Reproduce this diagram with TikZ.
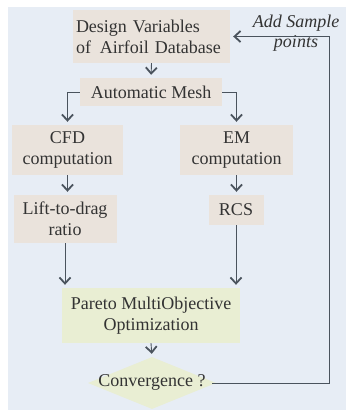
\documentclass[tikz,border=0pt]{standalone}
\usepackage{fontspec}
\setmainfont{Liberation Serif}
\usetikzlibrary{arrows.meta,shapes.geometric}
\definecolor{bgc}{HTML}{E7EDF5}
\definecolor{boxc}{HTML}{EAE3DC}
\definecolor{optc}{HTML}{E9EED3}
\definecolor{linec}{HTML}{4A535D}
\definecolor{txtc}{HTML}{333333}
\begin{document}
\begin{tikzpicture}[x=1pt,y=-1pt,
  font=\fontsize{18}{21}\selectfont,
  every node/.style={text=txtc},
  bx/.style={fill=boxc, draw=none, inner sep=2pt, align=center},
  opt/.style={fill=optc, draw=none, inner sep=2pt, align=center},
  arr/.style={draw=linec, line width=0.9pt, -{Straight Barb[length=6pt,width=11pt,line width=1.8pt]}, shorten >=3pt},
  ln/.style={draw=linec, line width=0.9pt}]
\useasboundingbox (0,0) rectangle (346,410);
\fill[bgc] (8,7) rectangle (346,410);

\node[bx, minimum width=157pt, minimum height=53pt, text width=151pt, align=left] (dv) at (151.5,36.5)
  {Design Variables\\of\, Airfoil Database};
\node[bx, minimum width=142pt, minimum height=28pt] (mesh) at (151,92) {Automatic Mesh};
\node[bx, minimum width=111pt, minimum height=50pt] (cfd) at (67.5,150) {CFD\\computation};
\node[bx, minimum width=113pt, minimum height=50pt] (em) at (236.5,150) {EM\\computation};
\node[bx, minimum width=103pt, minimum height=48pt] (lift) at (65,219) {Lift-to-drag\\ratio};
\node[bx, minimum width=55pt, minimum height=30pt] (rcs) at (236,210) {RCS};
\node[opt, minimum width=178pt, minimum height=55pt] (par) at (151,315.5) {Pareto MultiObjective\\Optimization};
\node[diamond, fill=optc, draw=none, inner sep=0pt, minimum width=128pt, minimum height=52pt, aspect=2.5] (conv) at (152,383) {};
\node (convt) at (152,382) {Convergence ?};
\node[font=\fontsize{18}{20}\selectfont\itshape, align=center] (lab) at (296,33) {Add Sample\\points};
\coordinate (fbc) at (329,0);

\draw[arr] (dv.south) -- (mesh.north);
\draw[arr] (mesh.west) -| (cfd.north);
\draw[arr] (mesh.east) -| (em.north);
\draw[arr] (cfd.south) -- (cfd.south |- lift.north);
\draw[arr] (em.south) -- (em.south |- rcs.north);
\draw[arr] (lift.south) -- (lift.south |- par.north);
\draw[arr] (rcs.south) -- (rcs.south |- par.north);
\draw[arr] (par.south) -- (conv.north);
\draw[arr] ([xshift=-4pt]conv.east) -| (fbc |- dv.east) -- (dv.east);
\end{tikzpicture}
\end{document}
